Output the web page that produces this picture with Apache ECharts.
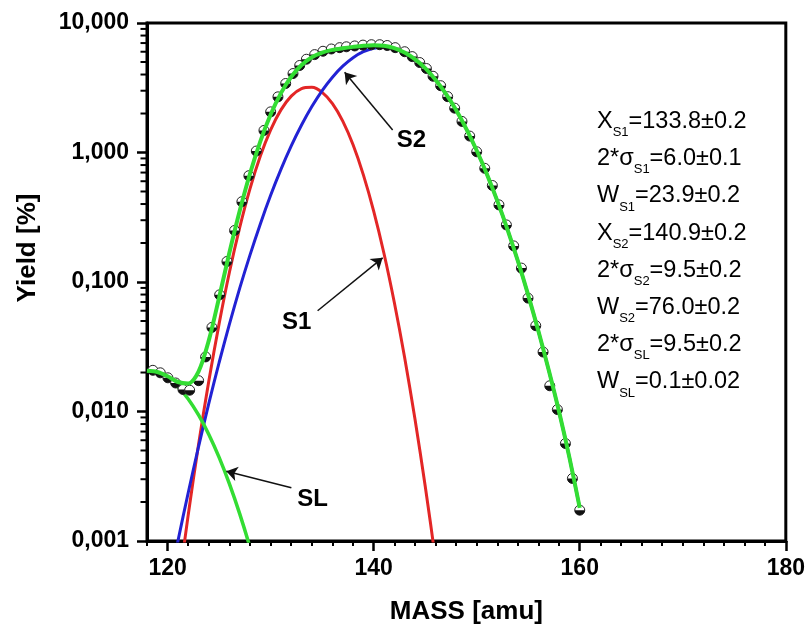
<!DOCTYPE html>
<html>
<head>
<meta charset="utf-8">
<script src="https://cdn.jsdelivr.net/npm/echarts@6/dist/echarts.min.js"></script>
<style>html,body{margin:0;padding:0;background:#fff}#c{width:808px;height:630px}</style>
</head>
<body>
<div id="c"></div>
<script>
// ---------- data ----------
const xTickLabels = [120, 140, 160, 180];
const xMinorTicks = [118,122,124,126,128,130,132,134,136,138,142,144,146,148,150,152,154,156,158,162,164,166,168,170,172,174,176,178];
const yTickLabels = ['0,001', '0,010', '0,100', '1,000', '10,000'];
const yMinorTicks = [0.002,0.003,0.004,0.005,0.006,0.007,0.008,0.009,
                     0.02,0.03,0.04,0.05,0.06,0.07,0.08,0.09,
                     0.2,0.3,0.4,0.5,0.6,0.7,0.8,0.9,
                     2,3,4,5,6,7,8,9];

// measured points
const pointMass = [118.57,119.29,120.03,120.78,121.49,122.14,123.01,123.69,124.30,125.05,
  125.76,126.50,127.21,127.89,128.61,129.35,130.00,130.71,131.46,132.17,
  132.82,133.47,134.27,135.08,135.89,136.70,137.35,138.16,138.96,139.78,
  140.58,141.31,142.09,143.01,143.74,144.47,145.12,145.76,146.50,147.18,
  147.86,148.57,149.32,150.00,150.78,151.52,152.16,152.88,153.59,154.34,
  154.98,155.73,156.44,157.09,157.83,158.61,159.29,160.00];
const pointYield = [0.0208,0.0199,0.0182,0.0166,0.0148,0.0146,0.0173,0.0264,0.0446,0.0796,
  0.144,0.250,0.417,0.662,1.026,1.48,2.06,2.69,3.41,4.07,
  4.7,5.25,5.7,6.05,6.3,6.45,6.55,6.65,6.75,6.8,
  6.8,6.7,6.45,6.0,5.5,4.95,4.45,3.88,3.28,2.70,
  2.20,1.738,1.339,1.013,0.755,0.556,0.394,0.276,0.190,0.128,
  0.0751,0.0460,0.0288,0.0158,0.01035,0.00566,0.00304,0.00173];

// total fit (green)
const totalMass = [118,119,120,121,122,123,124,125,126,127,128,129,130,131,132,133,134,135,136,137,138,139,
  140,141,142,143,144,145,146,147,148,149,150,151,152,153,154,155,156,157,158,159,160];
const totalYield = [0.0206,0.0202,0.0187,0.0169,0.01645,0.0203,0.0354,0.0760,0.169,0.355,0.689,1.22,1.963,2.874,
  3.848,4.743,5.446,5.917,6.202,6.386,6.540,6.672,6.737,6.665,6.398,5.920,5.261,4.481,3.652,2.848,
  2.126,1.517,1.036,0.677,0.423,0.253,0.1447,0.0792,0.0414,0.0207,0.0099,0.0044,0.0018];

// component S1 (red)
const s1Mass = [121,122,123,124,125,126,127,128,129,130,131,132,133,134,135,136,137,138,139,140,141,142,143,144,145,146,147];
const s1Yield = [0.00041,0.00159,0.00554,0.0172,0.0477,0.119,0.264,0.526,0.938,1.496,2.134,2.725,3.114,3.184,
  2.913,2.385,1.747,1.146,0.672,0.353,0.166,0.0697,0.0262,0.00882,0.00266,0.000717,0.000173];

// component S2 (blue)
const s2Mass = [120,121,122,123,124,125,126,127,128,129,130,131,132,133,134,135,136,137,138,139,140,141,142,143,144,
  145,146,147,148,149,150,151,152,153,154,155,156,157,158,159,160];
const s2Yield = [0.000404,0.000998,0.00236,0.00534,0.01155,0.0239,0.0473,0.0896,0.162,0.281,0.467,0.740,1.123,1.629,
  2.262,3.004,3.817,4.639,5.394,6.0,6.384,6.499,6.328,5.894,5.252,4.478,3.651,2.848,2.126,1.517,1.036,0.677,0.423,
  0.253,0.1447,0.0792,0.0414,0.0207,0.0099,0.0044,0.0018];

// component SL (green, left)
const slMass = [118,119,120,121,122,123,124,125,126,127,128,129];
const slYield = [0.0206,0.0200,0.0182,0.0155,0.0125,0.0094,0.00665,0.00442,0.00276,0.00162,0.00089,0.00045];

// annotations
const annoNames = ['S2', 'S1', 'SL'];
const annoLabelMass = [143.67, 132.52, 134.08];
const annoLabelYield = [1.247, 0.0485, 0.0021];
const arrowTailMass = [141.84, 134.56, 132.01];
const arrowTailYield = [1.49, 0.060, 0.00258];
const arrowTipMass = [137.18, 140.87, 125.70];
const arrowTipYield = [4.17, 0.1536, 0.00346];

// fit parameters text
const paramSymbols = ['X', '2*σ', 'W', 'X', '2*σ', 'W', '2*σ', 'W'];
const paramSubs = ['S1', 'S1', 'S1', 'S2', 'S2', 'S2', 'SL', 'SL'];
const paramValues = ['133.8±0.2', '6.0±0.1', '23.9±0.2', '140.9±0.2', '9.5±0.2', '76.0±0.2', '9.5±0.2', '0.1±0.02'];

// ---------- chart ----------
const FONT = 'Liberation Sans';
const GREEN = '#33dd33', RED = '#e32626', BLUE = '#2222d4';
const X_MIN = 118, X_MAX = 180;
const zip = (a, b) => a.map((v, i) => [v, b[i]]);

const paramText = paramSymbols.map((s, i) => `{m|${s}}{s|${paramSubs[i]}}{m|=${paramValues[i]}}`).join('\n');

const chart = echarts.init(document.getElementById('c'), null, {renderer: 'canvas'});
chart.setOption({
  animation: false,
  backgroundColor: '#fff',
  grid: {left: 147, top: 23, width: 640, height: 519, show: true, borderColor: '#000', borderWidth: 3, backgroundColor: 'transparent'},
  xAxis: [{
    type: 'value', min: X_MIN, max: X_MAX, position: 'bottom',
    axisLine: {show: true, onZero: false, lineStyle: {color: '#000', width: 3}},
    axisTick: {show: true, length: 10, customValues: xTickLabels, lineStyle: {color: '#000', width: 2.5}},
    axisLabel: {customValues: xTickLabels, fontSize: 23, fontWeight: 'bold', fontFamily: FONT, color: '#000', margin: 16},
    splitLine: {show: false},
    name: 'MASS [amu]', nameLocation: 'middle', nameGap: 58,
    nameTextStyle: {fontSize: 26, fontWeight: 'bold', fontFamily: FONT, color: '#000'}
  }, {
    type: 'value', min: X_MIN, max: X_MAX, position: 'bottom',
    axisLine: {show: false, onZero: false},
    axisTick: {show: true, length: 5, customValues: xMinorTicks, lineStyle: {color: '#000', width: 2}},
    axisLabel: {show: false},
    splitLine: {show: false}
  }],
  yAxis: [{
    type: 'log', logBase: 10, min: 0.001, max: 10, position: 'left',
    axisLine: {show: true, onZero: false, lineStyle: {color: '#000', width: 3}},
    axisTick: {show: true, length: 10, lineStyle: {color: '#000', width: 2.5}},
    axisLabel: {
      formatter: v => yTickLabels[Math.round(Math.log10(v)) + 3],
      fontSize: 23, fontWeight: 'bold', fontFamily: FONT, color: '#000', margin: 18
    },
    splitLine: {show: false}
  }],
  graphic: [{
    type: 'text', x: 28, y: 248, rotation: Math.PI / 2,
    style: {text: 'Yield [%]', fontSize: 26, fontWeight: 'bold', fontFamily: FONT, fill: '#000', align: 'center', verticalAlign: 'middle'}
  }, {
    type: 'text', x: 597, y: 103,
    style: {
      text: paramText, align: 'left', verticalAlign: 'top',
      rich: {
        m: {fontSize: 23.5, fontFamily: FONT, color: '#000', lineHeight: 37.2},
        s: {fontSize: 13, fontFamily: FONT, color: '#000', lineHeight: 13, padding: [22, 0, 0, 0]}
      }
    }
  }],
  series: [{
    type: 'custom', name: 'yMinorTicks', data: yMinorTicks.map(v => [X_MIN, v]), xAxisIndex: 0, yAxisIndex: 0,
    encode: {x: 0, y: 1}, clip: false, silent: true, z: 1,
    renderItem: (params, api) => {
      const p = api.coord([api.value(0), api.value(1)]);
      return {type: 'line', shape: {x1: p[0] - 1, y1: p[1], x2: p[0] - 6.5, y2: p[1]}, style: {stroke: '#000', lineWidth: 2}};
    }
  }, {
    type: 'line', name: 'S1', data: zip(s1Mass, s1Yield), xAxisIndex: 0, yAxisIndex: 0,
    smooth: 0.3, symbol: 'none', z: 2, lineStyle: {color: RED, width: 3}
  }, {
    type: 'line', name: 'S2', data: zip(s2Mass, s2Yield), xAxisIndex: 0, yAxisIndex: 0,
    smooth: 0.3, symbol: 'none', z: 2, lineStyle: {color: BLUE, width: 3}
  }, {
    type: 'line', name: 'SL', data: zip(slMass, slYield), xAxisIndex: 0, yAxisIndex: 0,
    smooth: 0.3, symbol: 'none', z: 3, lineStyle: {color: GREEN, width: 3.5},
    markLine: {
      silent: true, symbol: ['none', 'arrow'], symbolSize: 11,
      lineStyle: {color: '#111', width: 1.5, type: 'solid'},
      label: {show: false},
      data: annoNames.map((n, i) => [
        {coord: [arrowTailMass[i], arrowTailYield[i]]},
        {coord: [arrowTipMass[i], arrowTipYield[i]]}
      ])
    },
    markPoint: {
      silent: true, symbol: 'circle', symbolSize: 1, itemStyle: {color: 'rgba(0,0,0,0)'},
      label: {show: true, position: 'inside', formatter: '{b}', fontSize: 24, fontWeight: 'bold', fontFamily: FONT, color: '#000'},
      data: annoNames.map((n, i) => ({name: n, coord: [annoLabelMass[i], annoLabelYield[i]]}))
    }
  }, {
    type: 'custom', name: 'data', data: zip(pointMass, pointYield), xAxisIndex: 0, yAxisIndex: 0,
    encode: {x: 0, y: 1}, z: 4,
    renderItem: (params, api) => {
      const p = api.coord([api.value(0), api.value(1)]);
      const r = 5;
      return {
        type: 'group', children: [
          {type: 'circle', shape: {cx: p[0], cy: p[1], r: r}, style: {fill: '#fff', stroke: '#222', lineWidth: 1}},
          {type: 'sector', shape: {cx: p[0], cy: p[1], r0: 0, r: r, startAngle: 0, endAngle: Math.PI, clockwise: true}, style: {fill: '#111'}}
        ]
      };
    }
  }, {
    type: 'line', name: 'fit', data: zip(totalMass, totalYield), xAxisIndex: 0, yAxisIndex: 0,
    smooth: 0.3, symbol: 'none', z: 5, lineStyle: {color: GREEN, width: 4}
  }]
});
</script>
</body>
</html>
